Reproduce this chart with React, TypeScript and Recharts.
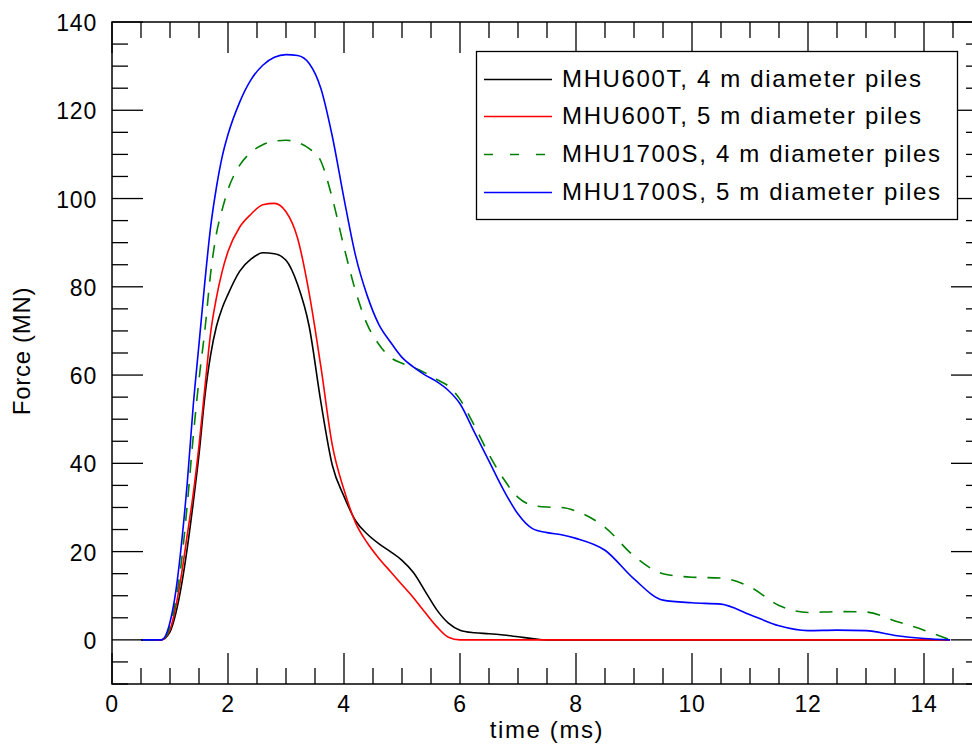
import React from "react";
import { LineChart, Line, XAxis, YAxis, ReferenceArea, Label } from "recharts";

// time in ms
const time = [
  0.5, 0.75, 0.85, 1.0, 1.1, 1.2, 1.3, 1.4, 1.5, 1.6, 1.7, 1.8, 1.9,
  2.0, 2.2, 2.4, 2.6, 2.8, 3.0, 3.2, 3.4, 3.6, 3.8,
  4.0, 4.2, 4.4, 4.6, 4.8, 5.0, 5.2, 5.4, 5.6, 5.8,
  6.0, 6.25, 6.5, 6.75, 7.0, 7.25, 7.5, 7.75, 8.0,
  8.5, 9.0, 9.5, 10.0, 10.5, 11.0, 11.5, 12.0, 12.5, 13.0, 13.5, 14.0, 14.45,
];

// force in MN
const mhu600t4m = [
  0, 0, 0, 1.8, 6, 12.5, 21, 31, 42, 55, 64.5, 71, 75.2,
  78.3, 83.5, 86.3, 87.7, 87.5, 86, 80.5, 71, 54, 39.5,
  32.5, 27, 24, 21.8, 20, 18, 15.2, 11, 6.8, 3.8,
  2.2, 1.6, 1.4, 1.1, 0.7, 0.3, 0, 0, 0,
  0, 0, 0, 0, 0, 0, 0, 0, 0, 0, 0, 0, 0,
];

const mhu600t5m = [
  0, 0, 0, 2.3, 7.5, 15, 24, 33, 44, 57, 69.5, 77.5, 83.5,
  88, 93.5, 96.5, 98.6, 98.9, 97, 91, 78.5, 62, 44,
  34, 26.5, 22, 18.5, 15.5, 12.5, 9.5, 6.2, 3, 0.6,
  0, 0, 0, 0, 0, 0, 0, 0, 0,
  0, 0, 0, 0, 0, 0, 0, 0, 0, 0, 0, 0, 0,
];

const mhu1700s4m = [
  0, 0, 0, 3, 9, 18, 31, 46, 59, 70, 83, 92, 97.5,
  102, 107.5, 110.5, 112.2, 113, 113.2, 112.7, 111.3, 108.5, 100,
  89, 79, 71.5, 67, 64, 62.7, 61.7, 60.5, 59, 57.5,
  54.5, 48.5, 42, 36.5, 32.3, 30.5, 30.1, 30, 29.2,
  25.5, 19, 15, 14.2, 14, 12, 7.8, 6.2, 6.4, 6.3, 4.3, 2.2, 0,
];

const mhu1700s5m = [
  0, 0, 0, 4, 11, 22, 36, 53, 67, 81, 93.5, 102.5, 109.5,
  114.5, 121.8, 127, 130.2, 132, 132.6, 132.4, 130.6, 125, 114,
  100, 87, 78, 71.5, 67.5, 64, 61.8, 60, 58.5, 56.5,
  53.5, 47, 40.5, 34, 28.5, 25.2, 24.3, 23.8, 23,
  20.3, 13.8, 9, 8.4, 8.1, 5.7, 3.2, 2.1, 2.2, 2.1, 1.0, 0.3, 0,
];

const xTicks = Array.from({ length: 31 }, (_, i) => i * 0.5);
const yTicks = Array.from({ length: 31 }, (_, i) => -10 + i * 5);

const series = [
  { key: "a", name: "MHU600T, 4 m diameter piles", values: mhu600t4m, color: "#000000", dash: undefined },
  { key: "b", name: "MHU600T, 5 m diameter piles", values: mhu600t5m, color: "#ff0000", dash: undefined },
  { key: "c", name: "MHU1700S, 4 m diameter piles", values: mhu1700s4m, color: "#008000", dash: "13 11" },
  { key: "d", name: "MHU1700S, 5 m diameter piles", values: mhu1700s5m, color: "#0000ff", dash: undefined },
];

const data = time.map((t, i) => {
  const row: Record<string, number> = { t };
  series.forEach((s) => (row[s.key] = s.values[i]));
  return row;
});

const FONT = "'Liberation Sans', Arial, Helvetica, sans-serif";
const TOP = 22;
const BOTTOM = 684;
const LEFT = 112;
const RIGHT = 982;

const XTick = (props: any) => {
  const { x, payload } = props;
  const v = payload.value;
  const major = Math.abs(v % 2) < 1e-6;
  const len = major ? 31 : 16;
  return (
    <g>
      <line x1={x} y1={BOTTOM} x2={x} y2={BOTTOM - len} stroke="#000" strokeWidth={1.3} />
      <line x1={x} y1={TOP} x2={x} y2={TOP + len} stroke="#000" strokeWidth={1.3} />
      {major && v < 15 && (
        <text x={x} y={BOTTOM + 28} textAnchor="middle" fontFamily={FONT} fontSize={23} letterSpacing={0.8} fill="#000">
          {v}
        </text>
      )}
    </g>
  );
};

const YTick = (props: any) => {
  const { y, payload } = props;
  const v = payload.value;
  const major = Math.abs(v % 20) < 1e-6;
  const len = major ? 31 : 16;
  return (
    <g>
      <line x1={LEFT} y1={y} x2={LEFT + len} y2={y} stroke="#000" strokeWidth={1.3} />
      <line x1={RIGHT} y1={y} x2={RIGHT - len} y2={y} stroke="#000" strokeWidth={1.3} />
      {major && v >= 0 && (
        <text x={LEFT - 15} y={y + 9} textAnchor="end" fontFamily={FONT} fontSize={23} letterSpacing={0.8} fill="#000">
          {v}
        </text>
      )}
    </g>
  );
};

const rowBaselines = [87, 124, 162, 200];

export default function App() {
  return (
    <div style={{ position: "fixed", left: 0, top: 0, width: 972, height: 744, overflow: "hidden", background: "#fff" }}>
      <LineChart width={1000} height={744} data={data} margin={{ top: TOP, right: 1000 - RIGHT, bottom: 0, left: 0 }}>
        <XAxis
          dataKey="t"
          type="number"
          domain={[0, 15]}
          ticks={xTicks}
          interval={0}
          height={60}
          tickSize={0}
          tickMargin={0}
          tickLine={false}
          axisLine={false}
          tick={<XTick />}
          label={{ value: "time (ms)", position: "insideBottom", offset: 6, fontFamily: FONT, fontSize: 24, letterSpacing: 1.6, fill: "#000" }}
        />
        <YAxis
          type="number"
          domain={[-10, 140]}
          ticks={yTicks}
          interval={0}
          width={112}
          tickSize={0}
          tickMargin={0}
          tickLine={false}
          axisLine={false}
          tick={<YTick />}
          label={
            <Label
              content={() => (
                <text x={30} y={351} transform="rotate(-90 30 351)" textAnchor="middle" fontFamily={FONT} fontSize={24} letterSpacing={0.7} fill="#000">
                  Force (MN)
                </text>
              )}
            />
          }
        />
        <ReferenceArea x1={0} x2={15} y1={-10} y2={140} fill="none" stroke="#000" strokeWidth={1.5} />
        {series.map((s) => (
          <Line
            key={s.key}
            type="monotone"
            dataKey={s.key}
            name={s.name}
            stroke={s.color}
            strokeWidth={1.6}
            strokeDasharray={s.dash}
            dot={false}
            activeDot={false}
            isAnimationActive={false}
          />
        ))}
      </LineChart>
      <svg width={972} height={744} style={{ position: "absolute", left: 0, top: 0, pointerEvents: "none" }}>
        <rect x={476.5} y={51.5} width={481} height={168} fill="#fff" stroke="#000" strokeWidth={1.3} />
        {series.map((s, i) => (
          <g key={s.key}>
            <line
              x1={484}
              x2={552}
              y1={rowBaselines[i] - 7.5}
              y2={rowBaselines[i] - 7.5}
              stroke={s.color}
              strokeWidth={1.5}
              strokeDasharray={s.dash ? "9 17" : undefined}
            />
            <text x={562} y={rowBaselines[i]} fontFamily={FONT} fontSize={24} letterSpacing={1.65} fill="#000">
              {s.name}
            </text>
          </g>
        ))}
      </svg>
    </div>
  );
}
